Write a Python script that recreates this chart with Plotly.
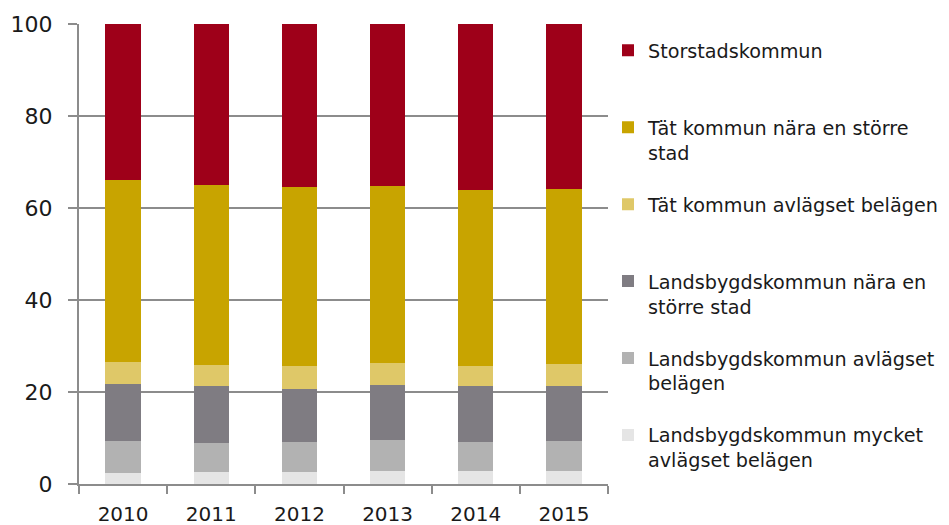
"""Stacked share chart by municipality type, 2010-2015"""

import plotly.graph_objects as go

years = ["2010", "2011", "2012", "2013", "2014", "2015"]

# bottom to top of the stack
mycket_avlagset = [2.5, 2.6, 2.7, 2.8, 2.8, 2.9]
lands_avlagset = [6.8, 6.4, 6.5, 6.7, 6.4, 6.5]
lands_nara = [12.5, 12.2, 11.5, 12.1, 12.0, 12.0]
tat_avlagset = [4.8, 4.7, 5.0, 4.8, 4.4, 4.7]
tat_nara = [39.4, 39.2, 38.8, 38.4, 38.4, 38.0]
storstad = [34.0, 34.9, 35.5, 35.2, 36.0, 35.9]

series = [
    ("Landsbygdskommun mycket<br>avlägset belägen", mycket_avlagset, "#E5E5E5"),
    ("Landsbygdskommun avlägset<br>belägen", lands_avlagset, "#B2B2B2"),
    ("Landsbygdskommun nära en<br>större stad", lands_nara, "#7F7C82"),
    ("Tät kommun avlägset belägen<br> ", tat_avlagset, "#DFC868"),
    ("Tät kommun nära en större<br>stad", tat_nara, "#C8A400"),
    ("Storstadskommun<br> ", storstad, "#9E0019"),
]

FONT = "DejaVu Sans"
AXIS = "#8C8C8C"
W, H = 941, 517  # page has an 8px body margin

fig = go.Figure()
for i, (name, vals, col) in enumerate(series):
    fig.add_trace(go.Bar(
        x=years, y=vals, name=name, legendgroup=str(i),
        legendrank=len(series) - i,
        marker=dict(color=col, line=dict(width=0))))

fig.update_layout(
    barmode="stack", bargap=0.6,
    width=W, height=H,
    paper_bgcolor="white", plot_bgcolor="white",
    font=dict(family=FONT, color="#1A1A1A"),
    margin=dict(l=71, r=338, t=16, b=41),
    legend=dict(
        xref="container", x=600 / W, xanchor="left",
        y=0.984, yanchor="top",
        traceorder="grouped", tracegroupgap=24, maxheight=600,
        valign="top", font=dict(family=FONT, size=19.2, color="#1A1A1A"),
        bgcolor="rgba(0,0,0,0)"),
    showlegend=True,
)
fig.update_xaxes(
    showline=True, linecolor=AXIS, linewidth=2,
    ticks="outside", tickson="boundaries", ticklen=8,
    tickcolor=AXIS, tickwidth=2, ticklabelstandoff=11,
    tickfont=dict(family=FONT, size=20, color="#1A1A1A"),
    showgrid=False, automargin=False)
fig.update_yaxes(
    range=[0, 100], dtick=20,
    showline=True, linecolor=AXIS, linewidth=2,
    ticks="outside", ticklen=9, tickcolor=AXIS, tickwidth=2,
    ticklabelstandoff=11,
    showgrid=True, gridcolor=AXIS, gridwidth=2,
    zeroline=False, automargin=False,
    tickfont=dict(family=FONT, size=22, color="#1A1A1A"))

fig.write_html("out.html")
